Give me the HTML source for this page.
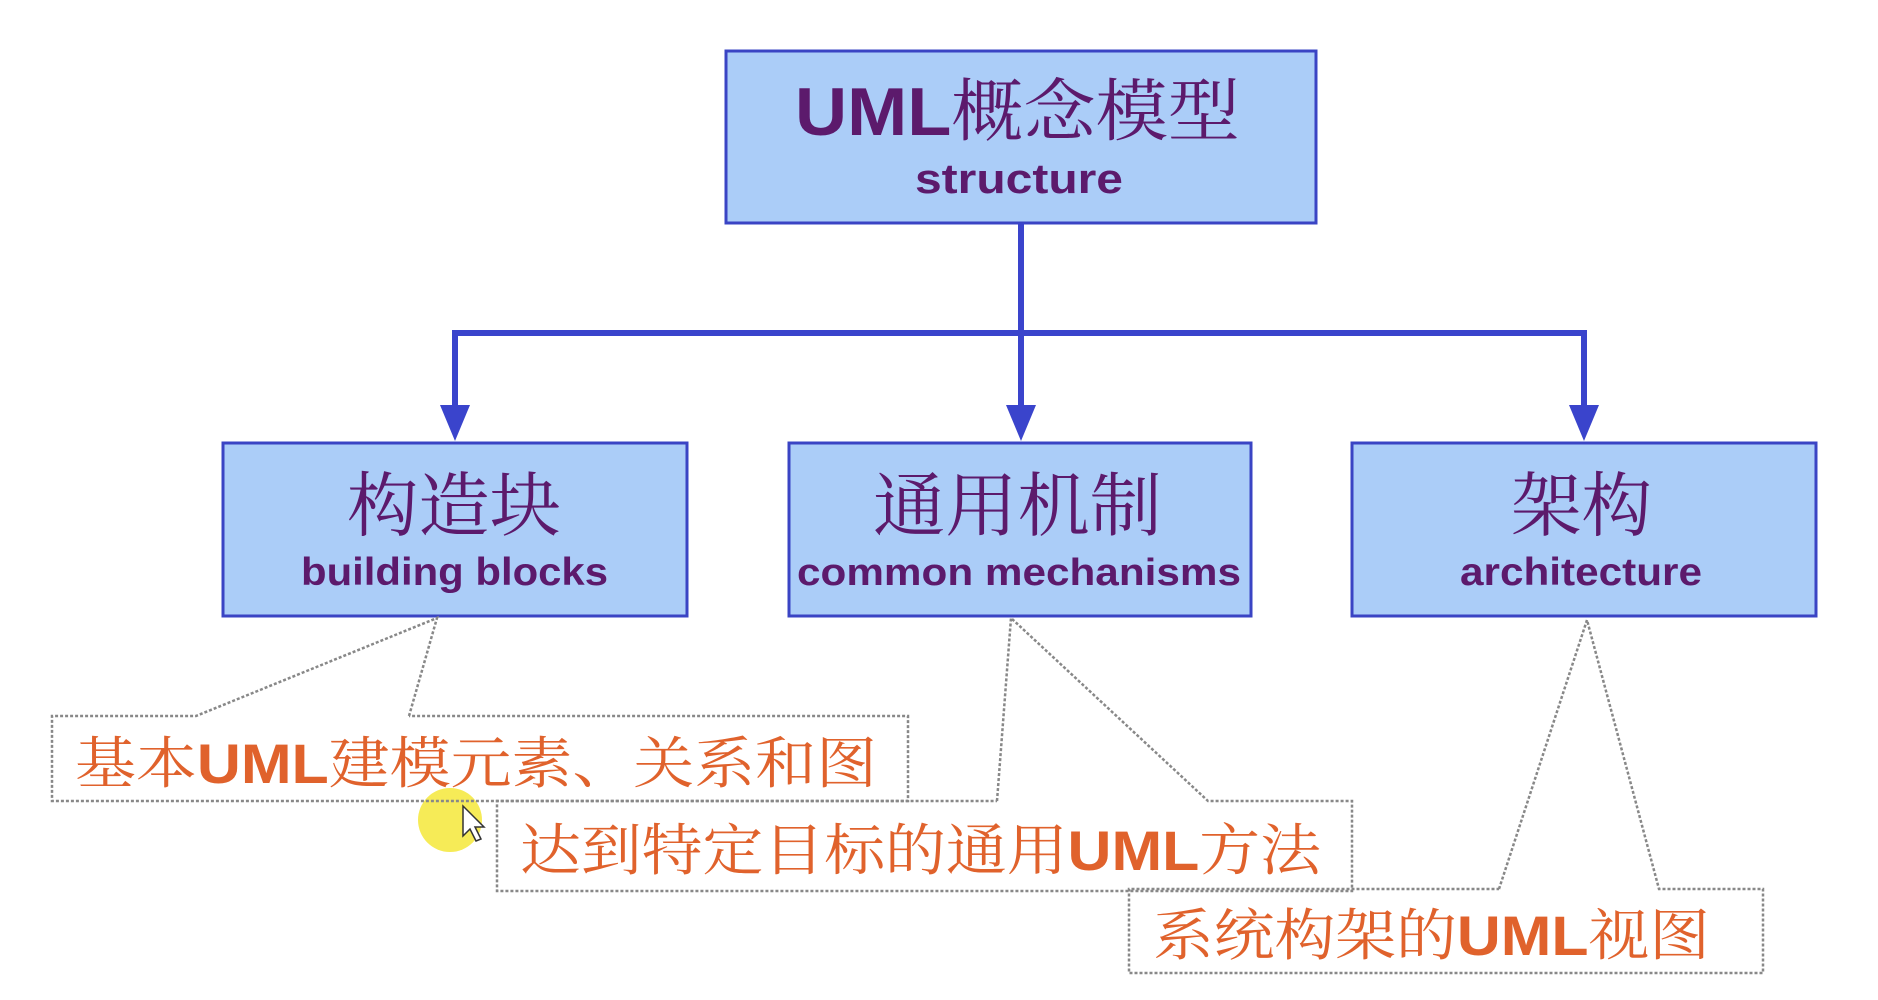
<!DOCTYPE html>
<html><head><meta charset="utf-8"><style>
html,body{margin:0;padding:0;background:#fff;}
svg{display:block;}
text{font-family:"Liberation Sans","Noto Sans CJK SC",sans-serif;}
.cjk{font-family:"Liberation Sans","Noto Serif CJK SC","Noto Sans CJK SC",serif;}
</style></head><body>
<svg width="1878" height="1000" viewBox="0 0 1878 1000" xmlns="http://www.w3.org/2000/svg">
<g fill="#abcdf8" stroke="#3a44c4" stroke-width="3">
<rect x="726" y="51" width="590" height="172"/>
<rect x="223" y="443" width="464" height="173"/>
<rect x="789" y="443" width="462" height="173"/>
<rect x="1352" y="443" width="464" height="173"/>
</g>
<g stroke="#3a44cc" stroke-width="6" fill="none">
<line x1="1021" y1="223" x2="1021" y2="410"/>
<polyline points="455,410 455,333 1584,333 1584,410"/>
</g>
<g fill="#3a44cc">
<polygon points="440,405 470,405 455,441"/>
<polygon points="1006,405 1036,405 1021,441"/>
<polygon points="1569,405 1599,405 1584,441"/>
</g>
<g fill="#5c1a6c">
<text x="795" y="135" font-size="68" font-weight="bold" textLength="445" lengthAdjust="spacingAndGlyphs"><tspan>UML</tspan><tspan class="cjk" font-weight="normal">概念模型</tspan></text>
<text x="915" y="193" font-size="42" font-weight="bold" textLength="208" lengthAdjust="spacingAndGlyphs">structure</text>
<text x="347" y="530" font-size="70" class="cjk" textLength="214" lengthAdjust="spacingAndGlyphs">构造块</text>
<text x="301" y="585" font-size="39" font-weight="bold" textLength="307" lengthAdjust="spacingAndGlyphs">building blocks</text>
<text x="873" y="530" font-size="70" class="cjk" textLength="289" lengthAdjust="spacingAndGlyphs">通用机制</text>
<text x="797" y="585" font-size="38" font-weight="bold" textLength="444" lengthAdjust="spacingAndGlyphs">common mechanisms</text>
<text x="1511" y="530" font-size="70" class="cjk" textLength="141" lengthAdjust="spacingAndGlyphs">架构</text>
<text x="1460" y="585" font-size="39" font-weight="bold" textLength="242" lengthAdjust="spacingAndGlyphs">architecture</text>
</g>
<circle cx="450" cy="820" r="32" fill="#f4e83a" opacity="0.85"/>
<g fill="none" stroke="#888" stroke-width="2.5" stroke-dasharray="3,2">
<polyline points="409,716 437,618 196,716 52,716 52,801 908,801 908,716 409,716"/>
<polyline points="997,801 1011,618 1208,801 1352,801 1352,891 497,891 497,801 997,801"/>
<polyline points="1499,889 1587,620 1659,889 1763,889 1763,973 1129,973 1129,889 1499,889"/>
</g>
<g fill="#e0622c">
<text x="75" y="783" font-size="56" class="cjk" textLength="802" lengthAdjust="spacingAndGlyphs">基本<tspan font-weight="bold" font-family="Liberation Sans">UML</tspan>建模元素、关系和图</text>
<text x="520" y="870" font-size="56" class="cjk" textLength="801" lengthAdjust="spacingAndGlyphs">达到特定目标的通用<tspan font-weight="bold" font-family="Liberation Sans">UML</tspan>方法</text>
<text x="1153" y="955" font-size="56" class="cjk" textLength="557" lengthAdjust="spacingAndGlyphs">系统构架的<tspan font-weight="bold" font-family="Liberation Sans">UML</tspan>视图</text>
</g>
<polygon points="463,806 463,836 470,829 476,841 481,839 475,827 484,827" fill="#fff" stroke="#333" stroke-width="1.5"/>
</svg>
</body></html>
